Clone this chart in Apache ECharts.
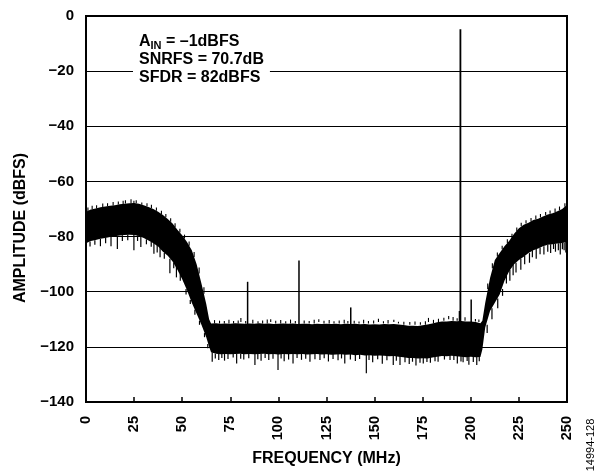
<!DOCTYPE html>
<html><head><meta charset="utf-8">
<script src="https://cdn.jsdelivr.net/npm/echarts@6/dist/echarts.min.js"></script>
<style>html,body{margin:0;padding:0;background:#fff}#c{width:606px;height:474px}</style>
</head><body><div id="c"></div>
<script>
// Frequency sample points (MHz) for the noise-band envelope
const freq = [0, 2.5, 5, 7.5, 10, 12.5, 15, 17.5, 20, 22.5, 25, 27.5, 30, 32.5, 35, 37.5, 40, 42.5, 45, 47.5, 50, 52.5, 55, 57.5, 60, 62.5, 64, 65,
  67.5, 70, 72.5, 75, 77.5, 80, 82.5, 85, 87.5, 90, 92.5, 95, 97.5, 100, 102.5, 105, 107.5, 110, 112.5, 115, 117.5, 120, 122.5, 125, 127.5, 130,
  132.5, 135, 137.5, 140, 142.5, 145, 147.5, 150, 152.5, 155, 157.5, 160, 162.5, 165, 167.5, 170, 172.5, 175, 177.5, 180, 182.5, 185, 187.5, 190,
  192.5, 195, 197.5, 200, 202.5, 205, 206,
  207.5, 210, 212.5, 215, 217.5, 220, 222.5, 225, 227.5, 230, 232.5, 235, 237.5, 240, 242.5, 245, 247.5, 250];

// Upper edge of the noise band (dBFS)
const upper = [-71, -70.2, -69.8, -69.4, -69.1, -68.8, -68.6, -68.3, -68.1, -67.9, -67.8, -68.1, -68.6, -69.3, -70, -71, -72.2, -73.6, -75.3, -77.5, -79.5, -82, -85, -90, -97, -104.5, -110, -111.5,
  -111.4, -111.6, -111.5, -111.6, -111.4, -111.5, -111.6, -111.5, -111.6, -111.4, -111.6, -111.5, -111.7, -111.6, -111.5, -111.6, -111.5, -111.7, -111.6, -111.6, -111.8, -111.6, -111.7, -111.6, -111.7, -111.6,
  -111.8, -111.6, -111.7, -111.6, -111.8, -111.7, -111.9, -111.8, -111.9, -111.7, -111.8, -111.7, -111.9, -112.1, -112.3, -112.3, -112.4, -112.2, -111.9, -111.5, -111.1, -110.8, -110.8, -110.6,
  -110.7, -110.6, -110.8, -110.8, -111, -111.4, -110.5,
  -104, -95, -88.5, -86, -83.5, -81.5, -79, -77, -75.7, -75, -74, -73.5, -72.7, -72, -71.5, -70.8, -70, -68.5];

// Lower edge of the noise band (dBFS)
const lower = [-82.4, -81.6, -81.2, -80.8, -80.5, -80.2, -79.9, -79.6, -79.4, -79.3, -79.4, -79.8, -80.5, -81.4, -82.4, -83.6, -85.5, -87, -89, -92, -95.5, -99.5, -104, -108, -112, -116.5, -120, -122,
  -122.5, -122.7, -122.6, -122.7, -122.6, -122.5, -122.7, -122.6, -122.7, -122.6, -122.5, -122.7, -122.6, -122.8, -122.6, -122.7, -122.6, -122.7, -122.6, -122.8, -122.7, -122.6, -122.8, -122.7, -122.9, -122.8,
  -122.7, -122.9, -122.8, -123, -122.9, -123.1, -123, -123.2, -123.1, -123.2, -123.4, -123.3, -123.6, -123.8, -124, -124, -124.2, -124.1, -124.2, -123.9, -123.6, -123.3, -123.4, -123.2,
  -123.4, -123.6, -123.8, -123.6, -123.8, -123.7, -121,
  -113, -107, -104, -101, -96, -92.5, -90, -88.5, -87.3, -86, -85, -84.3, -83.5, -83, -82.8, -82.5, -82.3, -82];

// Tones and spurs: [freq MHz, from dBFS, to dBFS]
const tones = [
  [194.6, -118, -4.8],
  [84, -112, -96.4],
  [110.7, -112, -88.7],
  [137.6, -112, -105.7],
  [200.2, -112, -102.8],
  [194.1, -112, -107]
];

// Small upward noise peaks along the top edge: [freq MHz, from dBFS, to dBFS]
const upNoise = [
  [1, -71, -69.5], [3.2, -70, -68.8], [5.5, -69.8, -68.6], [8.7, -69.3, -68], [11.2, -69, -67.9], [14.1, -68.7, -67.5], [16.8, -68.4, -67.3],
  [19.3, -68.2, -67], [20.5, -68, -66.8], [23.4, -67.9, -66.5], [24.9, -68, -67], [26.1, -67.9, -66.8], [29, -68.5, -67.6], [31.7, -69, -67.9],
  [34, -69.6, -68.5], [36.6, -70.6, -69.5], [39.2, -71.8, -70.6], [41.5, -73, -71.8], [44, -74.6, -73.4], [46.3, -76.5, -75.2], [48.8, -78.5, -77.2],
  [51.2, -80.7, -79.3], [53.6, -83.3, -81.8], [56.2, -87.4, -85.6], [58.8, -93.4, -91.2], [61.3, -100.7, -98.4],
  [66.8, -111.5, -110.3], [69.4, -111.5, -110.5], [71.9, -111.5, -110.6], [74.3, -111.5, -110.2], [76.7, -111.5, -110.6], [79.1, -111.5, -110.4],
  [80.5, -111, -109.5], [83, -111.5, -110.6], [86.7, -111.5, -110.2], [89.4, -111.5, -110.7], [91.8, -111.5, -110.4], [94.2, -111.5, -110.1],
  [96, -111, -110], [98.6, -111.5, -110.5], [101.2, -111.5, -110.3], [103.8, -111.5, -110.7], [106.3, -111.5, -110.1], [108.8, -111.5, -110.6],
  [113.4, -111.5, -110.4], [116, -111.5, -110.6], [118.6, -111.5, -110.2], [121, -111, -110], [123.7, -111.5, -110.5], [126.4, -111.5, -110.3],
  [128.9, -111.5, -110.7], [131.6, -111.5, -110.4], [134.2, -111.5, -110.2], [136.1, -111.5, -110.6], [139.4, -111.5, -110.5], [141.9, -111.5, -110.8],
  [144.3, -111.5, -110.2], [146.8, -111.5, -110.6], [149.5, -111.5, -110.4], [152, -111, -109.8], [154.6, -111.5, -110.7], [157, -111.5, -110.3],
  [160, -111, -110.2], [162.4, -111.5, -110.9], [165.2, -112, -110.9], [168.3, -112, -111], [171, -112, -110.8], [173.8, -112, -111.1],
  [176.4, -112, -110.7], [178, -111, -109.5], [180.6, -111.5, -110.2], [183.2, -111, -109.8], [186, -110.5, -109.4], [188.5, -110, -108.8],
  [190.8, -110.5, -109.2], [192.9, -110.5, -109.6], [197, -110.5, -109.3], [202.4, -110.8, -109.9], [204.2, -111, -110.1],
  [208.8, -99, -97], [211.2, -91.5, -89.7], [213.8, -87.2, -85.8], [216.3, -84.6, -83.3], [219, -82.3, -81], [221.4, -80.4, -79],
  [223.9, -78, -76.7], [226.2, -76.3, -75], [228.7, -75.3, -74.1], [231.3, -74.5, -73.3], [233.8, -73.7, -72.4], [236.2, -73.1, -71.8],
  [238.9, -72.3, -71.1], [241.2, -71.7, -70.5], [243.8, -71.2, -69.8], [246.1, -70.4, -69.1], [248.9, -69.2, -67.9]
];

// Downward noise excursions along the bottom edge: [freq MHz, from dBFS, to dBFS]
const downNoise = [
  [2.1, -81.8, -83.6], [4.6, -81.3, -83], [7.5, -80.8, -83.5], [10.2, -80.5, -82.4], [13, -80.2, -83.5], [16.3, -79.8, -84.5], [18.9, -79.5, -81.6],
  [21.7, -79.3, -81.3], [24.9, -79.4, -85], [26.8, -79.6, -81.6], [28.5, -80, -83.8], [31.4, -81, -82.8], [33.9, -81.8, -83.7], [35.3, -82, -86.2],
  [37, -83, -85.8], [38.5, -84, -87.5], [40.7, -86, -88], [43.6, -88, -93.3], [45.6, -89.5, -91.5], [47, -90.5, -94.8], [49, -93.5, -96],
  [52, -99, -101], [54.2, -103, -104.5], [56.6, -106.5, -108.4], [59, -110.5, -112], [61.6, -115, -116.5], [63.3, -119, -120.5],
  [65.6, -122, -125.4], [67.2, -122.5, -124.2], [69, -122.5, -124.8], [70.6, -122.5, -124], [72, -122.5, -125], [73.8, -122.5, -124.4],
  [76.5, -122.5, -123.9], [78.3, -122.5, -126], [80.4, -122.5, -124.3], [82, -122.5, -124.6], [84.6, -122.5, -124.1], [87.8, -122.5, -126.6],
  [89.3, -122.5, -124.5], [91, -122.5, -125], [93.1, -122.5, -124], [95, -122.5, -124.8], [97.2, -122.5, -124.3], [99.8, -122.5, -128.4],
  [101.4, -122.5, -124.2], [103, -122.5, -125.2], [105.3, -122.5, -124.6], [107.6, -122.5, -126], [109.7, -122.5, -124], [112, -122.5, -124.7],
  [114.2, -122.5, -124.3], [116.4, -122.5, -125.4], [119, -122.5, -124.5], [121.6, -122.5, -124.8], [123.8, -122.5, -124.1], [126, -122.5, -125.3],
  [128.4, -122.5, -124.4], [131, -122.5, -124.9], [132.8, -122.5, -124.2], [134.5, -122.5, -126], [137.4, -122.5, -124.6], [140, -122.5, -125.1],
  [142.2, -122.5, -124.4], [145.7, -122.5, -129.6], [147.1, -122.5, -124.8], [149, -122.5, -125.6], [151.6, -122.5, -124.5], [154, -122.5, -126.1],
  [156.4, -122.5, -124.9], [159.7, -123, -126.6], [161.3, -123, -125], [163.2, -123, -126.6], [165.8, -123.5, -125.6], [168, -123.5, -126.2],
  [169.7, -123.5, -125.4], [171.5, -123.5, -126.8], [173.6, -123.5, -125.8], [175.3, -123.5, -126], [177.2, -123.5, -125.5], [179, -123.5, -125.8],
  [181.4, -123, -125.2], [183, -123, -125.4], [186.3, -123, -124.6], [189.2, -123, -124.8], [191.2, -123, -124.8], [193, -123, -126],
  [194.9, -123, -125.3], [196, -123, -125.6], [198.1, -123, -125.1], [199, -123, -126.5], [201.3, -123, -125.5], [203.1, -123, -126.6], [204.4, -123, -125.2],
  [208.5, -112, -115], [211, -106, -110], [214, -102.5, -106], [216.5, -99, -101.5], [218.5, -94, -97], [220.3, -92, -96], [222, -90, -94],
  [223.5, -89.5, -93], [226, -88, -92], [228, -87, -90], [230.5, -86, -89.5], [232, -85, -87.5], [234, -84.5, -88], [236, -84, -86.4],
  [238, -83.5, -86.5], [240, -83, -85.5], [241.5, -82.8, -86], [243, -82.7, -84.5], [244, -82.5, -85.5], [245.5, -82.4, -85], [246.5, -82.3, -86.5],
  [247.6, -82.3, -84.6], [248.5, -82.2, -85], [249.4, -82, -85.8]
];

const yTickValues = [0, -20, -40, -60, -80, -100, -120, -140];
const yTickLabels = ['0', '\u221220', '\u221240', '\u221260', '\u221280', '\u2212100', '\u2212120', '\u2212140'];
const annotation = ['A', 'IN', ' = \u20131dBFS', 'SNRFS = 70.7dB', 'SFDR = 82dBFS'];

const F = '"Liberation Sans", Arial, Helvetica, sans-serif';
const chart = echarts.init(document.getElementById('c'), null, {renderer: 'canvas'});

function bandItem(params, api) {
  if (params.dataIndex !== 0) return null;
  const pts = [];
  for (let i = 0; i < freq.length; i++) pts.push(api.coord([freq[i], upper[i]]));
  for (let i = freq.length - 1; i >= 0; i--) pts.push(api.coord([freq[i], lower[i]]));
  return {type: 'polygon', shape: {points: pts}, style: {fill: '#000', lineWidth: 0}};
}
function spurItem(w) {
  return function (params, api) {
    const a = api.coord([api.value(0), api.value(1)]);
    const b = api.coord([api.value(0), api.value(2)]);
    const lw = (api.value(2) > -20) ? 1.8 : w;
    return {type: 'line', shape: {x1: a[0], y1: a[1], x2: b[0], y2: b[1]}, style: {stroke: '#000', lineWidth: lw}};
  };
}

chart.setOption({
  animation: false,
  backgroundColor: '#fff',
  grid: {left: 86, right: 39, top: 16, bottom: 72, show: true, borderColor: '#000', borderWidth: 2, backgroundColor: 'transparent'},
  xAxis: {
    type: 'value', min: 0, max: 250, interval: 25,
    name: 'FREQUENCY (MHz)', nameLocation: 'middle', nameGap: 49,
    nameTextStyle: {fontFamily: F, fontWeight: 'bold', fontSize: 16, color: '#000'},
    axisLine: {show: true, onZero: false, lineStyle: {color: '#000', width: 2}},
    axisTick: {show: true, inside: true, length: 5, lineStyle: {color: '#000', width: 1.5}},
    axisLabel: {rotate: 90, margin: 14, fontFamily: F, fontWeight: 'bold', fontSize: 14.5, color: '#000'},
    splitLine: {show: false}
  },
  yAxis: {
    type: 'value', min: -140, max: 0, interval: 20,
    axisLine: {show: true, onZero: false, lineStyle: {color: '#000', width: 2}},
    axisTick: {show: false},
    axisLabel: {margin: 12, fontFamily: F, fontWeight: 'bold', fontSize: 15, color: '#000',
      formatter: v => yTickLabels[yTickValues.indexOf(v)]},
    splitLine: {show: true, lineStyle: {color: '#000', width: 1}}
  },
  series: [
    {type: 'custom', renderItem: bandItem, clip: true, encode: {x: 0, y: [1, 2]},
     data: freq.map((f, i) => [f, upper[i], lower[i]])},
    {type: 'custom', renderItem: spurItem(1.1), clip: true, encode: {x: 0, y: [1, 2]}, data: upNoise},
    {type: 'custom', renderItem: spurItem(1.2), clip: true, encode: {x: 0, y: [1, 2]}, data: downNoise},
    {type: 'custom', renderItem: spurItem(1.5), clip: true, encode: {x: 0, y: [1, 2]}, data: tones}
  ],
  graphic: [
    {type: 'text', left: 133, top: 30, z: 100,
     style: {
       text: '{m|' + annotation[0] + '}{s|' + annotation[1] + '}{m|' + annotation[2] + '}\n{m|' + annotation[3] + '}\n{m|' + annotation[4] + '}',
       rich: {
         m: {fontFamily: F, fontWeight: 'bold', fontSize: 16, lineHeight: 18, fill: '#000'},
         s: {fontFamily: F, fontWeight: 'bold', fontSize: 11, lineHeight: 10, verticalAlign: 'bottom', fill: '#000'}
       },
       backgroundColor: '#fff', padding: [3, 6, 3, 6]
     }},
    {type: 'text', x: 21, y: 228, rotation: Math.PI / 2, z: 100,
     style: {text: 'AMPLITUDE (dBFS)', fontFamily: F, fontWeight: 'bold', fontSize: 16, fill: '#000', align: 'center', verticalAlign: 'middle'}},
    {type: 'text', x: 590.5, y: 445, rotation: Math.PI / 2, z: 100,
     style: {text: '14994-128', fontFamily: F, fontSize: 11, fill: '#000', align: 'center', verticalAlign: 'middle'}}
  ]
});
</script>
</body></html>
